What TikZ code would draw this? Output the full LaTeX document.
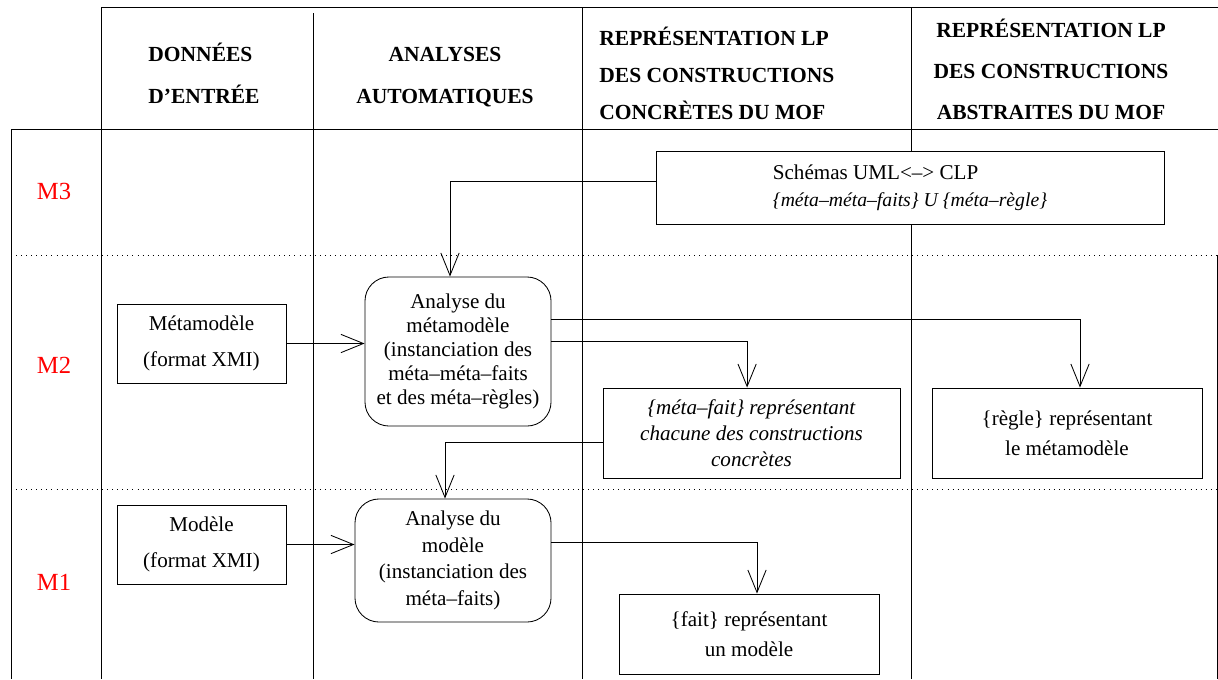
\documentclass[tikz,border=0pt]{standalone}
\usepackage{fontspec}
\setmainfont{Liberation Serif}
\usetikzlibrary{arrows.meta}

\begin{document}
\begin{tikzpicture}[x=0.025cm, y=-0.025cm, line width=0.6pt,
  >={Straight Barb[length=16pt,width=13pt]},
  boite/.style={draw, fill=white, inner sep=0pt, align=center},
  analyse/.style={boite, rounded corners=0.6cm},
  entete/.style={inner sep=0pt, font=\fontsize{15.3}{#1}\selectfont\bfseries},
  niveau/.style={inner sep=0pt, text=red, font=\fontsize{17.5}{20}\selectfont},
  pointille/.style={line width=0.7pt, dash pattern=on 0.7pt off 2.9pt}]
  \useasboundingbox (0,0) rectangle (1218,679);

  % Cadre du tableau
  \draw (101,7) -- (1218,7);
  \draw (11,129) -- (1218,129);
  \draw (11,129) -- (11,679);
  \draw (101,7) -- (101,679);
  \draw (313,13) -- (313,679);
  \draw (582,7) -- (582,679);
  \draw (911,7) -- (911,679);
  \draw (1217,255) -- (1217,679);

  % Separation des niveaux
  \draw[pointille] (11,255) -- (1218,255);
  \draw[pointille] (11,489) -- (1218,489);

  % En-tetes (base = derniere ligne)
  \node[entete=29.8pt, anchor=base west, align=left] (donnees) at (148,103) {DONNÉES\\D’ENTRÉE};
  \node[entete=29.8pt, anchor=base, align=center] (analyses) at (445,103) {ANALYSES\\AUTOMATIQUES};
  \node[entete=26pt, anchor=base west, align=left] (concretes) at (599,119)
    {REPRÉSENTATION LP\\DES CONSTRUCTIONS\\CONCRÈTES DU MOF};
  \node[entete=29pt, anchor=base, align=center] (abstraites) at (1051,119)
    {REPRÉSENTATION LP\\DES CONSTRUCTIONS\\ABSTRAITES DU MOF};

  % Niveaux
  \node[niveau, anchor=base] (m3) at (54,199) {M3};
  \node[niveau, anchor=base] (m2) at (54,373) {M2};
  \node[niveau, anchor=base] (m1) at (54,590) {M1};

  % Boites
  \node[boite, align=left, minimum width=12.7cm, minimum height=1.825cm,
    font=\fontsize{15}{19}\selectfont] (schemas) at (910,187.5)
    {Schémas UML<–> CLP\\{\fontsize{14}{19}\selectfont\itshape \{méta–méta–faits\} U \{méta–règle\}}};
  \node[boite, minimum width=4.225cm, minimum height=1.975cm,
    font=\fontsize{15}{25.5}\selectfont] (metamodele) at (201.5,343.5)
    {Métamodèle\\(format XMI)};
  \node[analyse, minimum width=4.65cm, minimum height=3.725cm,
    font=\fontsize{15}{17}\selectfont] (anameta) at (458,351.5)
    {Analyse du\\métamodèle\\(instanciation des\\méta–méta–faits\\et des méta–règles)};
  \node[boite, minimum width=7.425cm, minimum height=2.25cm,
    font=\fontsize{15}{18.4}\selectfont\itshape] (metafait) at (751.5,433)
    {\{méta–fait\} représentant\\chacune des constructions\\concrètes};
  \node[boite, minimum width=6.75cm, minimum height=2.25cm,
    font=\fontsize{15}{21}\selectfont] (regle) at (1067,433)
    {\{règle\} représentant\\le métamodèle};
  \node[boite, minimum width=4.225cm, minimum height=1.975cm,
    font=\fontsize{15}{25.5}\selectfont] (modele) at (201.5,544.5)
    {Modèle\\(format XMI)};
  \node[analyse, minimum width=4.9cm, minimum height=3.075cm,
    font=\fontsize{15}{19}\selectfont] (anamod) at (453,560.5)
    {Analyse du\\modèle\\(instanciation des\\méta–faits)};
  \node[boite, minimum width=6.5cm, minimum height=2cm,
    font=\fontsize{15}{21}\selectfont] (fait) at (749,634)
    {\{fait\} représentant\\un modèle};

  % Fleches
  \draw[->] ([yshift=0.14cm]schemas.west) -| ([xshift=-0.2cm]anameta.north);
  \draw[->] (metamodele.east) -- (metamodele.east -| anameta.west);
  \draw[->] ([yshift=0.79cm]anameta.east) -| ([xshift=0.325cm]regle.north);
  \draw[->] ([yshift=0.26cm]anameta.east) -| ([xshift=-0.11cm]metafait.north);
  \draw[->] ([yshift=-0.225cm]metafait.west) -| ([xshift=-0.2cm]anamod.north);
  \draw[->] (modele.east) -- (modele.east -| anamod.west);
  \draw[->] ([yshift=0.46cm]anamod.east) -| ([xshift=0.2cm]fait.north);
\end{tikzpicture}
\end{document}
